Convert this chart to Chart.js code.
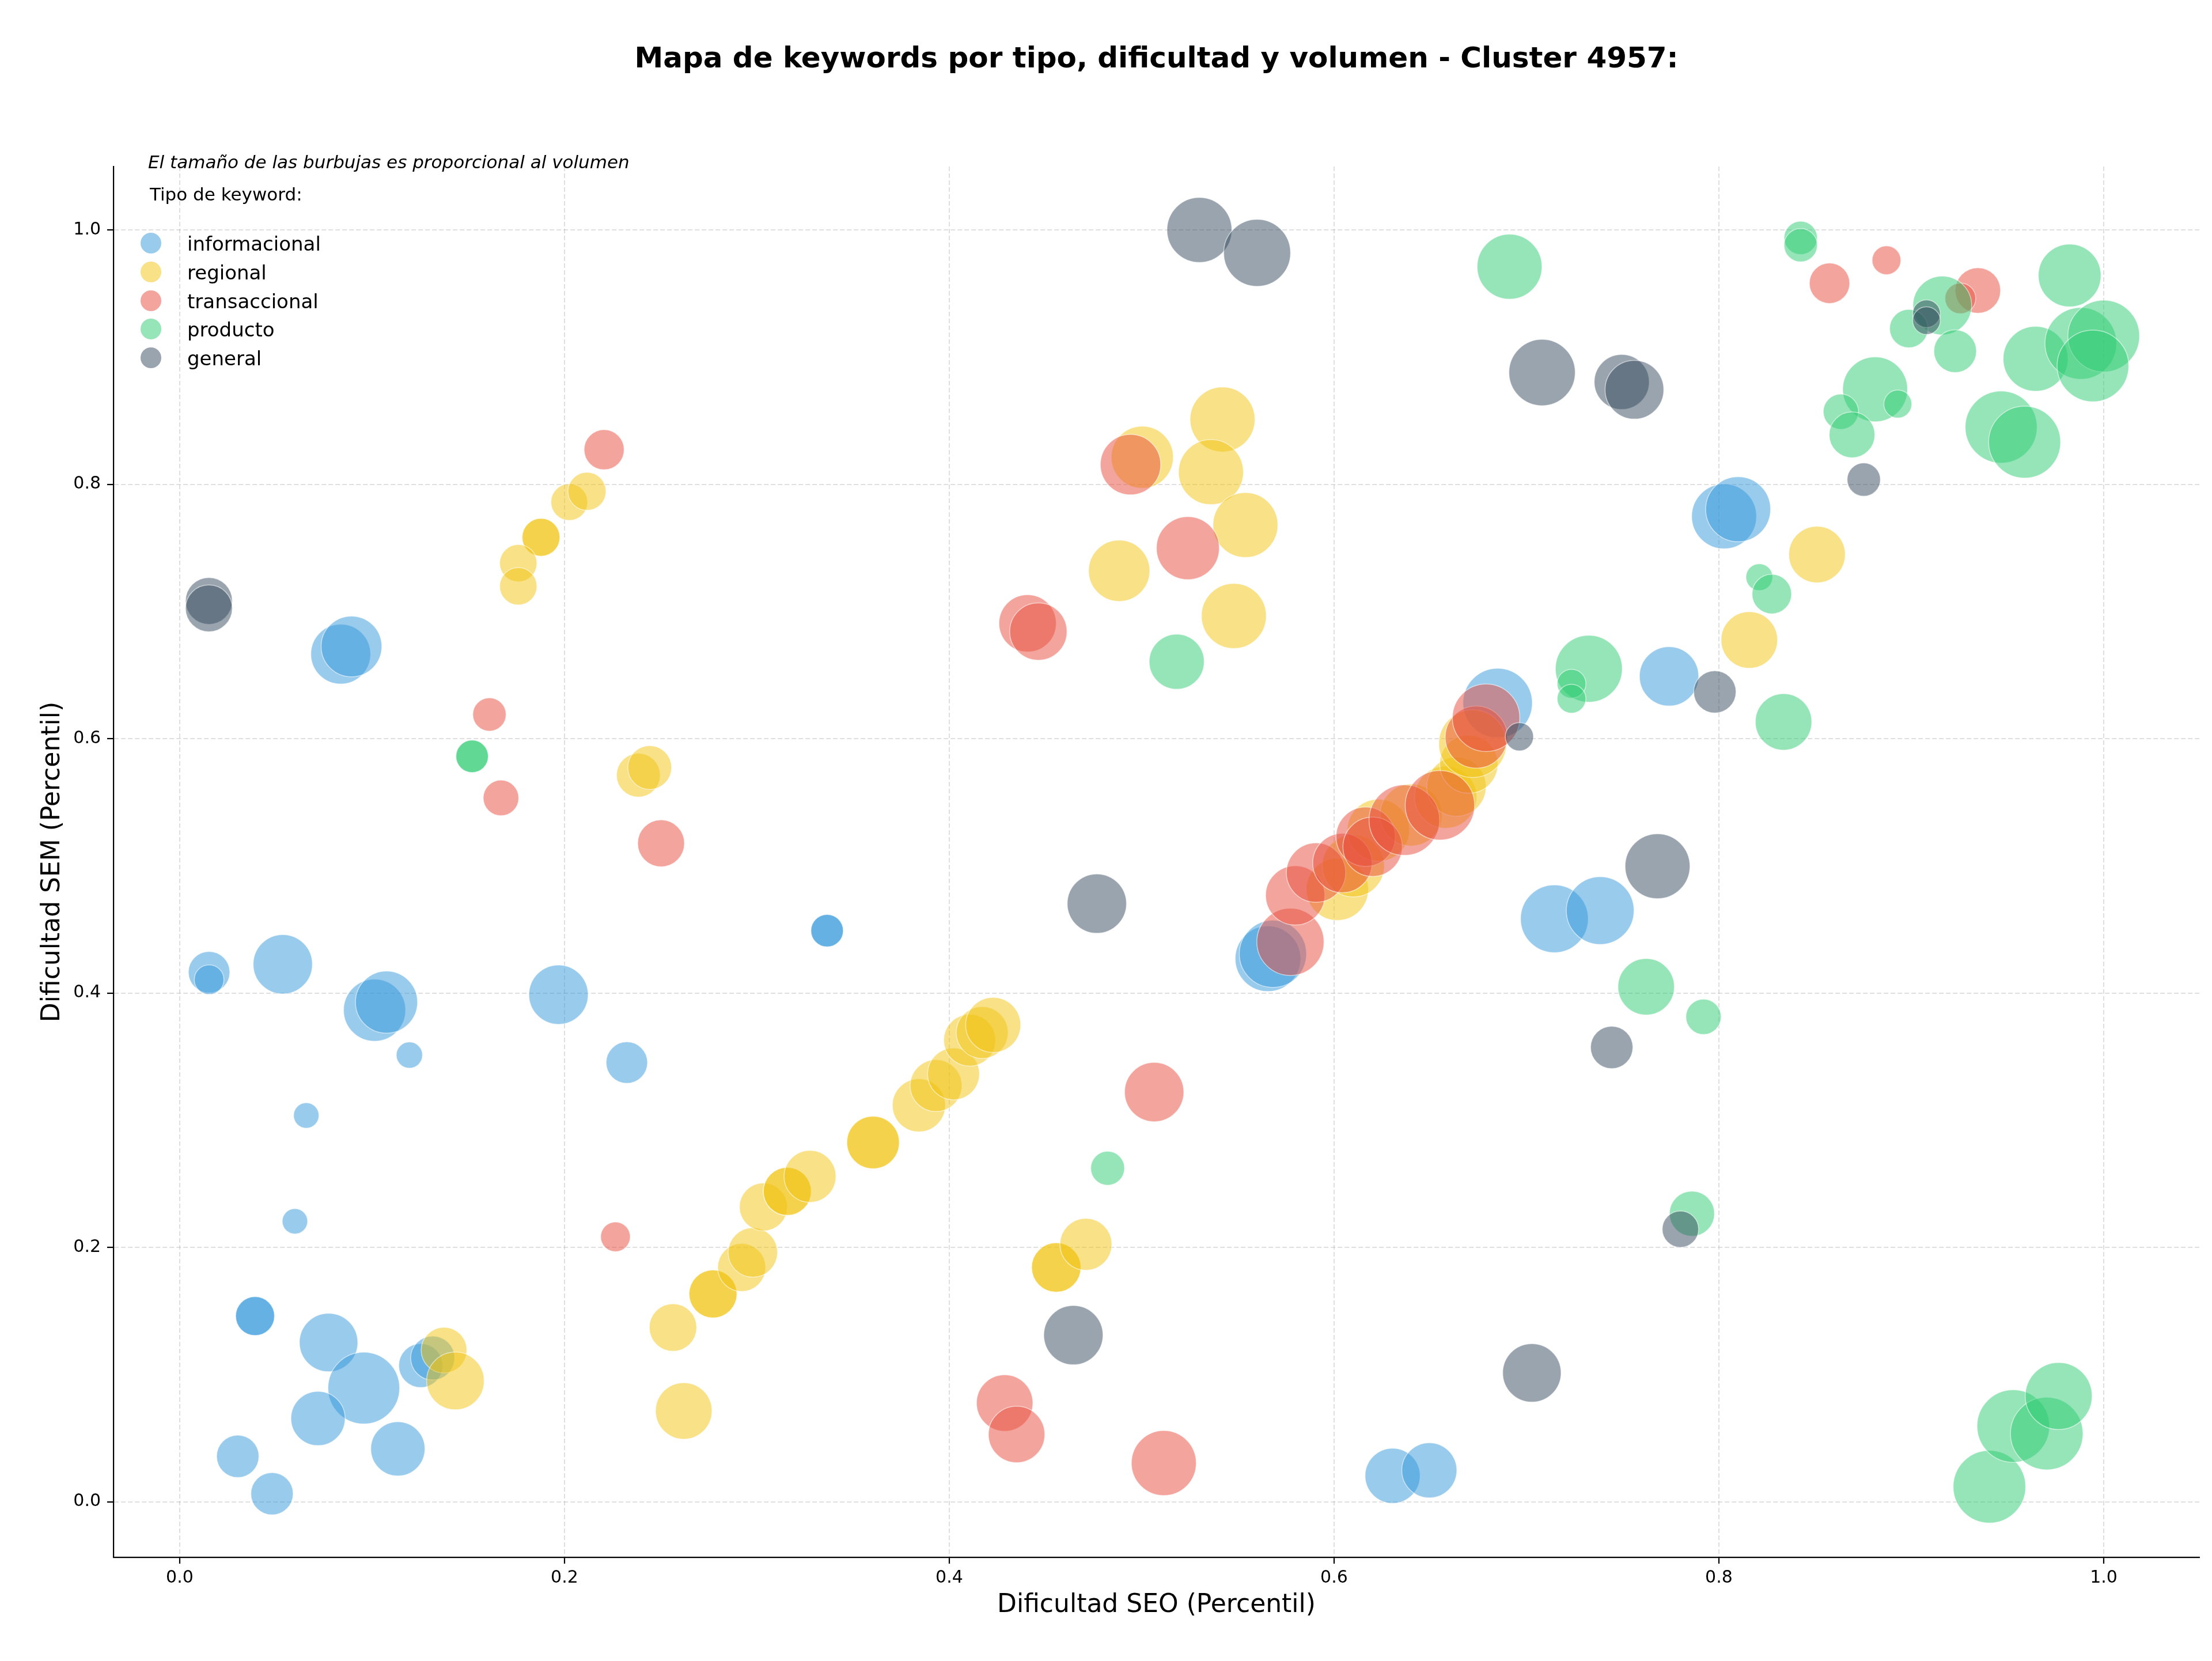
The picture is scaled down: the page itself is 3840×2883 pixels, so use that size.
<!DOCTYPE html>
<html><head><meta charset="utf-8">
<script src="https://cdn.jsdelivr.net/npm/chart.js@4.4.1/dist/chart.umd.min.js"></script>
<style>html,body{margin:0;padding:0;background:#fff}canvas{display:block}</style>
</head><body>
<canvas id="c" width="3840" height="2883"></canvas>
<script>
// ---- DATA ----
const tipos = ['informacional','regional','transaccional','producto','general'];
const colores = ['#3498db','#f1c40f','#e74c3c','#2ecc71','#34495e'];
const xTicks = [0.0, 0.2, 0.4, 0.6, 0.8, 1.0];
const yTicks = [0.0, 0.2, 0.4, 0.6, 0.8, 1.0];

const informacional_x = [0.0153,0.0153,0.0536,0.1013,0.1075,0.1194,0.1969,0.2324,0.0658,0.0599,0.0392,0.0392,0.0774,0.0957,0.0719,0.0302,0.048,0.1134,0.1253,0.1315,0.0837,0.0893,0.3365,0.3365,0.5656,0.5682,0.685,0.7145,0.7383,0.7741,0.8027,0.81,0.6304,0.6495];
const informacional_y = [0.4164,0.4105,0.4226,0.3865,0.3928,0.3512,0.3987,0.3453,0.3037,0.2205,0.146,0.146,0.1252,0.0894,0.0655,0.0357,0.0063,0.0416,0.1071,0.113,0.6665,0.6725,0.449,0.449,0.427,0.4308,0.628,0.4584,0.4648,0.649,0.7748,0.7804,0.0204,0.0247];
const informacional_vol = [864,441,1764,1936,1936,346,1764,864,324,324,762,762,1714,2581,1475,900,900,1475,973,973,1798,1849,529,529,2153,2266,2421,2304,2304,1764,2116,2116,1521,1521];

const regional_x = [0.2025,0.2117,0.1878,0.1878,0.176,0.176,0.2384,0.2443,0.1374,0.1433,0.2564,0.262,0.2772,0.2772,0.2921,0.2979,0.3034,0.3158,0.3158,0.3276,0.3604,0.3604,0.3842,0.3931,0.4022,0.4106,0.4171,0.4228,0.4556,0.4556,0.471,0.4883,0.5003,0.542,0.536,0.5539,0.5479,0.8158,0.851,0.6017,0.61,0.623,0.64,0.658,0.6636,0.67,0.672];
const regional_y = [0.786,0.7945,0.7583,0.7583,0.738,0.7198,0.5713,0.5773,0.1192,0.095,0.137,0.0714,0.1634,0.1634,0.1842,0.196,0.2318,0.244,0.244,0.2558,0.2825,0.2825,0.3117,0.3272,0.3364,0.3629,0.3689,0.3749,0.1842,0.1842,0.2024,0.732,0.8213,0.851,0.8096,0.768,0.6965,0.6776,0.7448,0.4815,0.5,0.528,0.54,0.554,0.5623,0.58,0.5961];
const regional_vol = [676,729,718,718,697,697,961,961,1050,1665,1129,1600,1156,1156,1156,1225,1156,1156,1156,1354,1384,1384,1414,1354,1354,1354,1354,1521,1225,1225,1354,1884,1936,2116,2116,2116,2116,1600,1600,1936,1936,1936,1936,1936,1764,1697,2304];

const transaccional_x = [0.2206,0.161,0.167,0.2502,0.2265,0.4407,0.4463,0.4942,0.524,0.5065,0.4288,0.435,0.5115,0.8575,0.8871,0.9346,0.9255,0.5773,0.5798,0.5906,0.6043,0.6164,0.62,0.6365,0.655,0.6739,0.679];
const transaccional_y = [0.8272,0.619,0.5534,0.5177,0.2083,0.6907,0.6842,0.8155,0.7498,0.3221,0.0776,0.0529,0.0304,0.9581,0.9762,0.9524,0.9462,0.4402,0.4768,0.4947,0.5022,0.5229,0.515,0.536,0.5476,0.6012,0.6164];
const transaccional_vol = [807,557,635,1102,441,1648,1648,1832,1989,1764,1600,1600,2116,818,416,1037,475,2266,1764,1764,1764,1764,1764,2500,2421,1936,2285];

const producto_x = [0.152,0.152,0.5182,0.4823,0.6912,0.7324,0.7234,0.7234,0.8336,0.821,0.8275,0.7622,0.792,0.786,0.9406,0.953,0.9704,0.9766,0.8425,0.8425,0.9161,0.8987,0.9228,0.9823,0.9646,0.9881,1.0,0.9944,0.8812,0.8634,0.8692,0.893,0.9467,0.9589];
const producto_y = [0.5861,0.5861,0.6605,0.2622,0.9711,0.655,0.6432,0.6314,0.6132,0.727,0.7137,0.4049,0.3813,0.2265,0.0118,0.0595,0.0536,0.0831,0.9938,0.988,0.9406,0.9225,0.9047,0.9642,0.8987,0.9108,0.9166,0.8931,0.8747,0.8571,0.8389,0.8631,0.845,0.8332];
const producto_vol = [529,529,1521,576,2116,2247,416,416,1600,361,784,1600,625,1024,2642,2642,2642,2247,557,557,1731,740,912,1971,2116,2581,2581,2581,2116,625,1050,392,2601,2601];

const general_x = [0.0152,0.0152,0.53,0.56,0.7081,0.7495,0.7561,0.8753,0.9079,0.9079,0.7979,0.6963,0.4767,0.7681,0.7443,0.78,0.4645,0.7028];
const general_y = [0.7083,0.7025,1.0,0.982,0.8879,0.8805,0.8744,0.8037,0.9342,0.9287,0.6368,0.6015,0.4703,0.4997,0.3572,0.2143,0.131,0.1013];
const general_vol = [1102,1102,2116,2247,2209,1521,1731,557,384,384,900,400,1764,2116,900,666,1764,1714];

const series = [
  [informacional_x, informacional_y, informacional_vol],
  [regional_x, regional_y, regional_vol],
  [transaccional_x, transaccional_y, transaccional_vol],
  [producto_x, producto_y, producto_vol],
  [general_x, general_y, general_vol]
];

const titulo = 'Mapa de keywords por tipo, dificultad y volumen - Cluster 4957:';
const nota = 'El tamaño de las burbujas es proporcional al volumen';
const tituloLeyenda = 'Tipo de keyword:';
const ejeX = 'Dificultad SEO (Percentil)';
const ejeY = 'Dificultad SEM (Percentil)';

// ---- STYLE / RENDER ----
const FONT = "'DejaVu Sans', sans-serif";
const RADIUS_SCALE = 1.2245;
function hexA(h, a) {
  const n = parseInt(h.slice(1), 16);
  return `rgba(${(n>>16)&255},${(n>>8)&255},${n&255},${a})`;
}

const datasets = tipos.map((t, i) => ({
  label: t,
  data: series[i][0].map((x, k) => ({x: x, y: series[i][1][k], r: Math.sqrt(series[i][2][k]) * RADIUS_SCALE})),
  backgroundColor: hexA(colores[i], 0.5),
  borderColor: 'rgba(255,255,255,0.55)',
  borderWidth: 1.5,
  hoverRadius: 0,
  order: 5 - i
}));

const overlay = {
  id: 'overlay',
  afterDraw(chart) {
    const ctx = chart.ctx;
    const ca = chart.chartArea;
    ctx.save();
    ctx.fillStyle = '#000';
    ctx.textBaseline = 'middle';
    ctx.textAlign = 'center';
    ctx.font = `bold 50px ${FONT}`;
    ctx.fillText(titulo, (ca.left + ca.right) / 2, 104);
    ctx.textAlign = 'left';
    ctx.font = `italic 31px ${FONT}`;
    ctx.fillText(nota, 257, 284);
    ctx.font = `31px ${FONT}`;
    ctx.fillText(tituloLeyenda, 260, 340);
    const rows = [422, 472, 522, 571, 621];
    tipos.forEach((t, i) => {
      ctx.beginPath();
      ctx.arc(262, rows[i], 18, 0, Math.PI * 2);
      ctx.fillStyle = hexA(colores[i], 0.5);
      ctx.fill();
      ctx.fillStyle = '#000';
      ctx.font = `34px ${FONT}`;
      ctx.fillText(t, 325, rows[i] + 4);
    });
    ctx.restore();
  }
};

const gridCommon = {
  color: 'rgba(176,176,176,0.4)',
  lineWidth: 2,
  drawTicks: true,
  tickLength: 11,
  tickColor: '#000',
  tickWidth: 2.2
};

new Chart(document.getElementById('c').getContext('2d'), {
  type: 'bubble',
  data: {datasets},
  options: {
    responsive: false,
    animation: false,
    devicePixelRatio: 1,
    layout: {autoPadding: false, padding: {left: 0, right: 22, top: 289, bottom: 0}},
    plugins: {legend: {display: false}, tooltip: {enabled: false}, title: {display: false}},
    events: [],
    scales: {
      x: {
        type: 'linear', min: -0.0344, max: 1.0497,
        afterBuildTicks: s => { s.ticks = xTicks.map(v => ({value: v})); },
        afterFit: s => { s.height = 180; },
        grid: gridCommon,
        border: {display: true, color: '#000', width: 2.2, dash: [8, 4]},
        ticks: {color: '#000', font: {family: FONT, size: 30}, padding: 7, maxRotation: 0, callback: v => Number(v).toFixed(1)},
        title: {display: true, text: ejeX, color: '#000', font: {family: FONT, size: 44}, padding: {top: 0, bottom: 70}}
      },
      y: {
        type: 'linear', min: -0.0437, max: 1.0499,
        afterBuildTicks: s => { s.ticks = yTicks.map(v => ({value: v})); },
        afterFit: s => { s.width = 197; },
        grid: gridCommon,
        border: {display: true, color: '#000', width: 2.2, dash: [8, 4]},
        ticks: {color: '#000', font: {family: FONT, size: 30}, padding: 11, callback: v => Number(v).toFixed(1)},
        title: {display: true, text: ejeY, color: '#000', font: {family: FONT, size: 44}, padding: {top: 65, bottom: 0}}
      }
    }
  },
  plugins: [overlay]
});
</script>
</body></html>
